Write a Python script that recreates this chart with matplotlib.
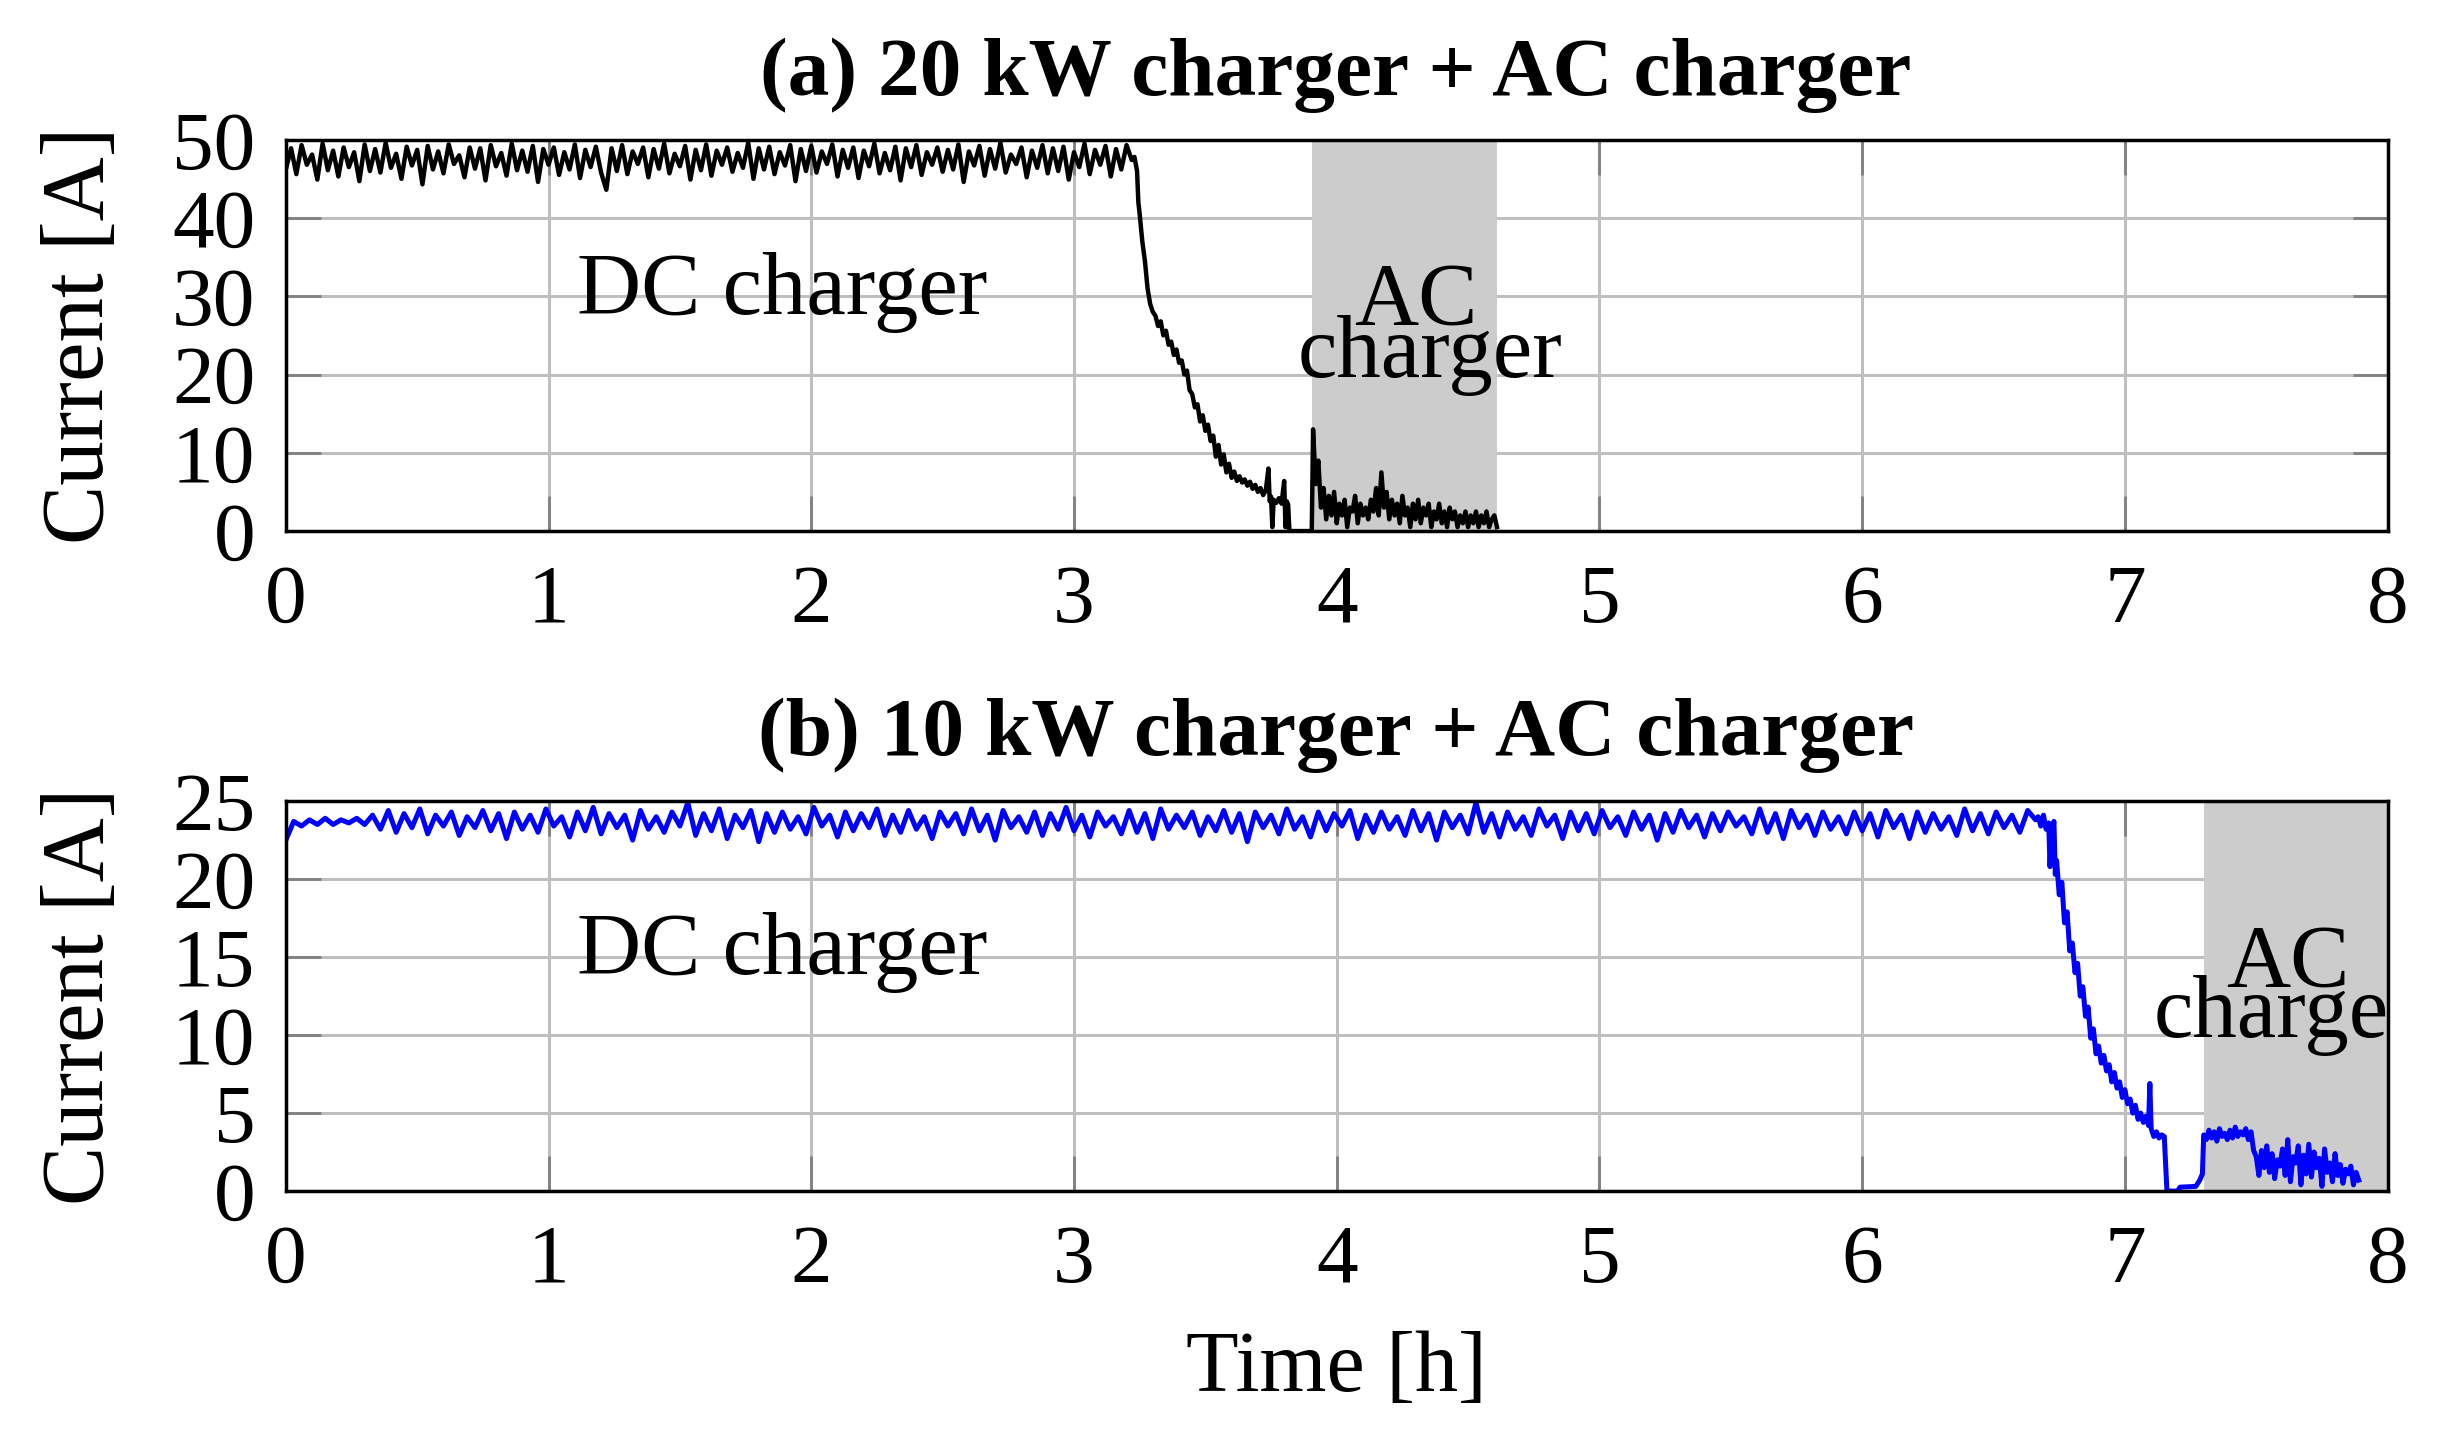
import numpy as np
import matplotlib
matplotlib.use('Agg')
import matplotlib.pyplot as plt

plt.rcParams['font.family'] = ['Liberation Serif', 'DejaVu Serif']

# (a) 20 kW charger: DC part sampled every 0.02 h from 0 to 3.22 h
a_dc = [46.2, 48.9, 45.6, 49.3, 46.8, 48.1, 44.9, 49.5, 46.1, 48.6,
        45.3, 49.0, 46.5, 48.4, 44.7, 49.4, 46.0, 48.8, 45.8, 49.6,
        46.4, 48.2, 45.0, 49.1, 46.7, 48.7, 44.3, 49.2, 46.2, 48.5,
        45.7, 49.4, 46.9, 48.0, 45.2, 49.0, 46.3, 48.9, 44.8, 49.3,
        46.6, 48.3, 45.4, 49.5, 46.1, 48.6, 45.9, 49.2, 44.6, 48.8,
        46.8, 49.0, 45.5, 48.4, 46.2, 49.4, 45.1, 48.7, 46.5, 49.1,
        45.8, 43.6, 48.9, 46.0, 49.3, 45.6, 48.5, 46.9, 49.0, 45.2,
        48.8, 46.3, 49.5, 45.7, 48.2, 46.6, 49.2, 44.9, 48.7, 46.1,
        49.4, 45.4, 48.6, 46.8, 49.0, 45.9, 48.3, 46.4, 49.6, 45.0,
        48.9, 46.2, 49.1, 45.6, 48.4, 46.7, 49.3, 44.7, 48.8, 46.0,
        49.2, 45.8, 48.5, 46.9, 49.4, 45.3, 48.7, 46.4, 49.0, 45.1,
        48.6, 46.6, 49.5, 45.7, 48.3, 46.1, 49.1, 44.8, 48.9, 46.5,
        49.3, 45.5, 48.4, 46.8, 49.0, 45.9, 48.7, 46.2, 49.4, 44.6,
        48.5, 46.7, 49.2, 45.4, 48.8, 46.3, 49.6, 45.8, 48.1, 46.9,
        49.0, 45.2, 48.6, 46.4, 49.3, 45.7, 48.9, 46.0, 49.1, 44.9,
        48.4, 46.5, 49.5, 45.6, 48.7, 46.8, 49.2, 45.3, 48.8, 46.2,
        49.3, 47.4]

# (a) drop after the DC charger
a_drop_t = [3.23, 3.24, 3.245, 3.25, 3.26, 3.27, 3.28, 3.29, 3.30, 3.31,
            3.32, 3.33, 3.34, 3.35, 3.36, 3.37, 3.38, 3.39, 3.40, 3.41,
            3.42, 3.43, 3.44, 3.45, 3.46, 3.47, 3.48, 3.49, 3.50, 3.51,
            3.52, 3.53, 3.54, 3.55, 3.56, 3.57, 3.58, 3.59, 3.60, 3.61,
            3.62, 3.63, 3.64, 3.65, 3.66, 3.67, 3.68, 3.69, 3.70, 3.71,
            3.72, 3.73, 3.74, 3.745, 3.75, 3.755, 3.76, 3.77, 3.78, 3.79,
            3.80, 3.805, 3.81, 3.815, 3.82, 3.905]
a_drop = [47.8, 46.0, 42.0, 40.5, 37.0, 34.5, 31.0, 29.0, 28.0, 27.5,
          26.2, 26.8, 25.0, 25.6, 23.8, 24.2, 22.5, 23.2, 21.5, 21.8,
          20.0, 20.5, 18.0, 17.5, 15.8, 16.2, 14.0, 14.8, 12.8, 13.6,
          11.5, 12.2, 9.5, 11.0, 8.5, 9.8, 7.5, 8.6, 6.8, 7.6,
          6.4, 7.0, 6.2, 6.6, 5.8, 6.3, 5.4, 5.9, 5.0, 5.5,
          4.6, 5.2, 8.0, 3.8, 4.4, 0.5, 4.0, 3.6, 4.2, 3.5,
          6.4, 0.5, 3.8, 3.4, 0.0, 0.0]

# (a) AC charger, every 0.01 h from 3.91 h
a_ac = [13.0, 6.0, 9.0, 3.0, 5.5, 1.5, 4.5, 2.0, 5.0, 1.0,
        3.5, 2.0, 4.0, 0.5, 3.0, 2.5, 4.5, 1.0, 3.5, 2.0,
        3.0, 1.5, 4.0, 2.5, 5.5, 2.0, 7.5, 3.0, 5.0, 1.5,
        4.0, 2.0, 3.5, 1.0, 4.5, 2.0, 3.0, 0.5, 3.5, 1.5,
        4.0, 1.0, 3.0, 2.0, 3.5, 0.5, 2.5, 1.5, 3.5, 1.0,
        2.5, 0.5, 3.0, 1.5, 2.5, 0.5, 2.0, 1.0, 2.5, 0.5,
        2.0, 1.0, 2.5, 0.5, 2.0, 1.0, 2.5, 0.5, 1.5, 2.0, 0.5]

# (b) 10 kW charger: DC part every 0.03 h from 0 to 6.66 h
b_dc = [22.5, 23.7, 23.4, 23.8, 23.5, 23.9, 23.5, 23.8, 23.6, 23.9,
        23.5, 24.1, 23.2, 24.4, 23.0, 24.2, 23.3, 24.5, 22.9, 24.1,
        23.4, 24.3, 22.8, 24.0, 23.3, 24.4, 23.1, 24.2, 22.6, 24.3,
        23.2, 24.1, 23.0, 24.5, 23.4, 24.0, 22.7, 24.3, 23.1, 24.6,
        22.9, 24.2, 23.3, 24.1, 22.5, 24.4, 23.2, 24.0, 23.0, 24.3,
        23.4, 24.9, 22.8, 24.2, 23.1, 24.5, 22.6, 24.1, 23.3, 24.4,
        22.4, 24.2, 23.0, 24.3, 23.2, 24.0, 22.9, 24.6, 23.4, 24.1,
        22.7, 24.3, 23.1, 24.2, 23.3, 24.5, 22.8, 24.1, 23.0, 24.4,
        23.2, 24.0, 22.6, 24.3, 23.4, 24.2, 22.9, 24.5, 23.1, 24.1,
        22.5, 24.4, 23.3, 24.0, 23.0, 24.3, 22.8, 24.2, 23.2, 24.6,
        23.1, 24.1, 22.7, 24.3, 23.4, 24.0, 22.9, 24.4, 23.0, 24.2,
        22.6, 24.5, 23.2, 24.1, 23.3, 24.3, 22.8, 24.0, 23.1, 24.4,
        23.0, 24.2, 22.4, 24.3, 23.3, 24.1, 22.9, 24.5, 23.2, 24.0,
        22.7, 24.3, 23.1, 24.2, 23.4, 24.4, 22.6, 24.1, 23.0, 24.3,
        23.2, 24.0, 22.8, 24.4, 23.1, 24.2, 22.5, 24.3, 23.3, 24.1,
        22.9, 24.9, 23.0, 24.2, 22.7, 24.3, 23.2, 24.0, 22.8, 24.5,
        23.4, 24.1, 22.6, 24.3, 23.1, 24.2, 22.9, 24.4, 23.3, 24.0,
        22.8, 24.3, 23.2, 24.1, 22.5, 24.2, 23.0, 24.4, 23.3, 24.1,
        22.7, 24.2, 23.1, 24.3, 23.4, 24.0, 22.9, 24.5, 23.0, 24.2,
        22.6, 24.4, 23.3, 24.1, 22.8, 24.3, 23.2, 24.0, 22.9, 24.3,
        23.1, 24.2, 22.7, 24.4, 23.3, 24.1, 22.6, 24.3, 23.0, 24.2,
        23.2, 24.0, 22.8, 24.5, 23.1, 24.2, 22.9, 24.3, 23.3, 24.1,
        23.0, 24.4, 23.8]

# (b) drop after the DC charger
b_drop_t = [6.67, 6.68, 6.69, 6.70, 6.71, 6.715, 6.72, 6.73, 6.735, 6.74,
            6.75, 6.76, 6.77, 6.78, 6.79, 6.80, 6.81, 6.82, 6.83, 6.84,
            6.85, 6.86, 6.87, 6.88, 6.89, 6.90, 6.91, 6.92, 6.93, 6.94,
            6.95, 6.96, 6.97, 6.98, 6.99, 7.00, 7.01, 7.02, 7.03, 7.04,
            7.05, 7.06, 7.07, 7.08, 7.09, 7.095, 7.10, 7.11, 7.12, 7.13,
            7.14, 7.15, 7.16, 7.20, 7.21, 7.27, 7.285, 7.295]
b_drop = [24.0, 23.4, 24.1, 23.2, 23.6, 20.8, 23.0, 23.7, 20.3, 21.2,
          19.0, 19.8, 17.2, 17.9, 15.4, 15.9, 14.0, 14.6, 12.5, 13.1,
          11.2, 11.8, 9.8, 10.4, 8.8, 9.3, 8.2, 8.7, 7.7, 8.1,
          7.0, 7.6, 6.6, 7.0, 6.0, 6.5, 5.6, 5.9, 5.0, 5.5,
          4.6, 5.0, 4.4, 4.8, 4.2, 6.9, 4.0, 3.5, 3.8, 3.4,
          3.6, 3.5, 0.0, 0.0, 0.25, 0.3, 0.7, 1.1]

# (b) AC charger, every 0.01 h from 7.30 h
b_ac = [3.6, 3.3, 3.9, 3.4, 3.8, 3.2, 4.0, 3.5, 3.7, 3.3,
        3.9, 3.4, 4.1, 3.5, 3.8, 3.6, 4.0, 3.3, 3.8, 2.6,
        2.2, 1.0, 2.6, 1.5, 2.9, 1.2, 2.4, 0.8, 2.0, 1.6,
        2.7, 1.0, 3.3, 0.6, 2.2, 1.8, 2.9, 0.4, 2.3, 1.1,
        3.0, 0.9, 2.5, 1.5, 2.1, 0.3, 2.7, 1.2, 1.8, 0.6,
        2.4, 1.0, 1.7, 0.5, 1.4, 1.1, 1.6, 0.4, 1.2, 0.7]

a_span = (3.907, 4.61)
b_span = (7.30, 8.0)

a_t = np.concatenate([np.arange(len(a_dc)) * 0.02, a_drop_t, 3.91 + np.arange(len(a_ac)) * 0.01])
a_i = np.concatenate([a_dc, a_drop, a_ac])
b_t = np.concatenate([np.arange(len(b_dc)) * 0.03, b_drop_t, 7.30 + np.arange(len(b_ac)) * 0.01])
b_i = np.concatenate([b_dc, b_drop, b_ac])

fig = plt.figure(figsize=(24.64, 14.55), dpi=100)
ax1 = fig.add_axes([0.116, 0.635, 0.853, 0.269])
ax2 = fig.add_axes([0.116, 0.1814, 0.853, 0.268])


def style(ax, ymax, ystep):
    ax.set_xlim(0, 8)
    ax.set_ylim(0, ymax)
    ax.set_xticks(range(0, 9))
    ax.set_yticks(np.arange(0, ymax + 1, ystep))
    ax.set_axisbelow(True)
    ax.grid(True, color='#bfbfbf', lw=2.2)
    ax.tick_params(direction='in', length=25, width=2, color='#808080',
                   labelsize=60, top=True, right=True)
    ax.tick_params(axis='x', pad=24)
    ax.tick_params(axis='y', pad=22)
    for sp in ax.spines.values():
        sp.set_linewidth(2.5)
        sp.set_zorder(3)
    ax.set_ylabel('Current [A]', fontsize=64)
    ax.yaxis.set_label_coords(-0.078, 0.5)


style(ax1, 50, 10)
ax1.axvspan(*a_span, color='#cccccc', lw=0, zorder=1)
ax1.plot(a_t, a_i, color='black', lw=3.2, zorder=2)
ax1.text(1.11, 27.7, 'DC charger', fontsize=64, ha='left', va='baseline')
ax1.text(4.30, 26.5, 'AC', fontsize=64, ha='center', va='baseline')
ax1.text(4.357, 19.7, 'charger', fontsize=64, ha='center', va='baseline')

style(ax2, 25, 5)
ax2.axvspan(*b_span, color='#cccccc', lw=0, zorder=1)
ax2.plot(b_t, b_i, color='#0000ff', lw=3.6, zorder=2)
ax2.text(1.11, 13.9, 'DC charger', fontsize=64, ha='left', va='baseline')
ax2.text(7.62, 13.2, 'AC', fontsize=64, ha='center', va='baseline', clip_on=True)
ax2.text(7.11, 9.9, 'charger', fontsize=64, ha='left', va='baseline', clip_on=True)

fig.text(0.5422, 0.9485, '(a) 20 kW charger + AC charger', fontsize=60,
         fontweight='bold', ha='center', va='center')
fig.text(0.5422, 0.4948, '(b) 10 kW charger + AC charger', fontsize=60,
         fontweight='bold', ha='center', va='center')
fig.text(0.5422, 0.0584, 'Time [h]', fontsize=62, ha='center', va='center')

fig.savefig('out.png', dpi=100)
